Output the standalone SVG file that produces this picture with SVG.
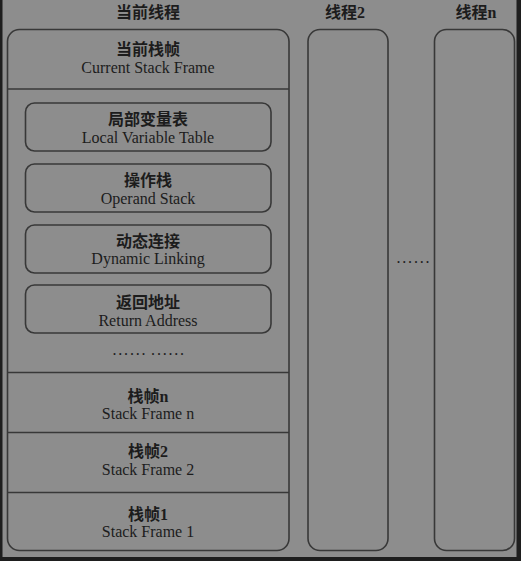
<svg xmlns="http://www.w3.org/2000/svg" width="521" height="561" viewBox="0 0 521 561">
<style>
.box{fill:none;stroke:#383838;stroke-width:1.6}
.ln{stroke:#383838;stroke-width:1.6}
.zh{font-family:"Noto Sans CJK SC","Noto Sans CJK TC",sans-serif;font-size:16px;font-weight:bold;fill:#1c1c1c;text-anchor:middle}
.d{font-family:"Liberation Serif",serif;font-size:16px;font-weight:bold}
.en{font-family:"Liberation Serif",serif;font-size:16px;fill:#1c1c1c;text-anchor:middle}
.dots{font-family:"Liberation Serif",serif;font-size:16px;fill:#1c1c1c;letter-spacing:1.8px}
</style>
<rect x="0" y="0" width="521" height="561" fill="#8d8d8d"/>
<rect x="0" y="0" width="2.5" height="561" fill="#1e1e1e"/>
<rect x="516.5" y="0" width="4.5" height="561" fill="#1e1e1e"/>
<rect x="0" y="557" width="521" height="4" fill="#1e1e1e"/>

<g id="thread-current">
<text class="zh" x="148" y="17.5">当前线程</text>
<rect class="box" x="7.5" y="29.5" width="281.5" height="521" rx="12"/>
</g>
<g id="current-frame">
<text class="zh" x="148" y="54.5">当前栈帧</text>
<text class="en" x="148" y="72.5">Current Stack Frame</text>
</g>
<g id="local-var">
<rect class="box" x="25.5" y="103" width="245.5" height="48" rx="9"/>
<text class="zh" x="148" y="124.5">局部变量表</text>
<text class="en" x="148" y="142.5">Local Variable Table</text>
</g>
<g id="operand">
<rect class="box" x="25.5" y="164" width="245.5" height="48" rx="9"/>
<text class="zh" x="148" y="186">操作栈</text>
<text class="en" x="148" y="203.5">Operand Stack</text>
</g>
<g id="dynamic">
<rect class="box" x="25.5" y="225" width="245.5" height="48" rx="9"/>
<text class="zh" x="148" y="246.5">动态连接</text>
<text class="en" x="148" y="264">Dynamic Linking</text>
</g>
<g id="return">
<rect class="box" x="25.5" y="285" width="245.5" height="48" rx="9"/>
<text class="zh" x="148" y="308">返回地址</text>
<text class="en" x="148" y="326">Return Address</text>
</g>
<text class="dots" x="112.5" y="355" word-spacing="-2">...... ......</text>
<g id="frame-n">
<text class="zh" x="148" y="401.5"><tspan>栈帧</tspan><tspan class="d">n</tspan></text>
<text class="en" x="148" y="419">Stack Frame n</text>
</g>
<g id="frame-2">
<text class="zh" x="148" y="456.5"><tspan>栈帧</tspan><tspan class="d">2</tspan></text>
<text class="en" x="148" y="474.5">Stack Frame 2</text>
</g>
<g id="frame-1">
<text class="zh" x="148" y="519.5"><tspan>栈帧</tspan><tspan class="d">1</tspan></text>
<text class="en" x="148" y="537">Stack Frame 1</text>
</g>
<g id="dividers">
<line class="ln" x1="7.5" y1="89" x2="289" y2="89"/>
<line class="ln" x1="7.5" y1="372.5" x2="289" y2="372.5"/>
<line class="ln" x1="7.5" y1="432.5" x2="289" y2="432.5"/>
<line class="ln" x1="7.5" y1="492.5" x2="289" y2="492.5"/>
</g>
<g id="thread-2">
<text class="zh" x="345" y="17.5"><tspan>线程</tspan><tspan class="d">2</tspan></text>
<rect class="box" x="308" y="29.5" width="80" height="521" rx="12"/>
</g>
<text class="dots" x="396.5" y="262.5">......</text>
<g id="thread-n">
<text class="zh" x="476" y="17.5"><tspan>线程</tspan><tspan class="d">n</tspan></text>
<rect class="box" x="434.5" y="29.5" width="80" height="521" rx="12"/>
</g>
</svg>
